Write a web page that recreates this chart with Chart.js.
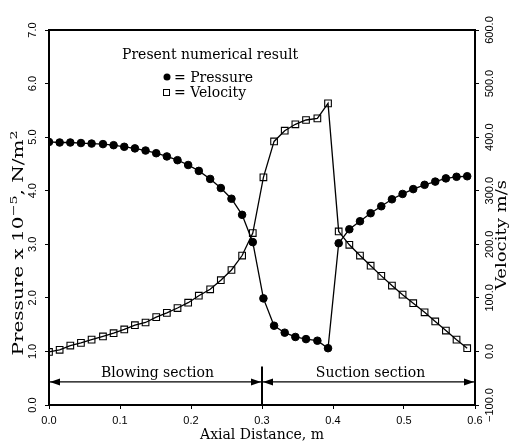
<!DOCTYPE html>
<html>
<head>
<meta charset="utf-8">
<script src="https://cdn.jsdelivr.net/npm/chart.js"></script>
<style>
  html, body { margin: 0; padding: 0; background: #fff; }
</style>
</head>
<body>
<canvas id="chart" width="509" height="445"></canvas>

<script>
// values
const axialDistance = [
  0.000, 0.015, 0.030, 0.045, 0.060, 0.076, 0.091, 0.106, 0.121, 0.136,
  0.151, 0.166, 0.181, 0.196, 0.211, 0.227, 0.242, 0.257, 0.272, 0.287,
  0.302, 0.317, 0.332, 0.347, 0.362, 0.378, 0.393,
  0.408, 0.423, 0.438, 0.453, 0.468, 0.483, 0.498, 0.513, 0.529, 0.544, 0.559, 0.574, 0.589
];
const pressure = [
  4.91, 4.90, 4.90, 4.89, 4.88, 4.87, 4.85, 4.82, 4.79, 4.75,
  4.70, 4.64, 4.57, 4.48, 4.37, 4.22, 4.05, 3.85, 3.55, 3.04,
  1.99, 1.48, 1.35, 1.27, 1.23, 1.20, 1.06,
  3.02, 3.28, 3.43, 3.58, 3.71, 3.84, 3.94, 4.03, 4.11, 4.17, 4.23, 4.26, 4.27
];
const velocity = [
  -1, 3, 11, 16, 22, 28, 34, 41, 49, 54,
  64, 72, 81, 91, 104, 116, 133, 152, 179, 221,
  325, 392, 412, 424, 432, 435, 463,
  224, 199, 179, 160, 141, 123, 106, 90, 73, 56, 39, 22, 6
];
const sectionBounds = [0, 0.3, 0.6];
const sectionNames = ['Blowing section', 'Suction section'];
const legendTitle = 'Present numerical result';
const seriesNames = ['Pressure', 'Velocity'];

const serif = "'DejaVu Serif', serif";
const sans = "'Liberation Sans', Arial, sans-serif";

function vText(ctx, parts, baseX, midY, length) {
  ctx.save();
  let w = 0;
  parts.forEach(p => { ctx.font = p[1] + 'px ' + serif; w += ctx.measureText(p[0]).width; });
  ctx.translate(baseX, midY);
  ctx.rotate(-Math.PI / 2);
  ctx.scale(length / w, 1);
  ctx.textAlign = 'left';
  ctx.textBaseline = 'alphabetic';
  let pos = -w / 2;
  parts.forEach(p => {
    ctx.font = p[1] + 'px ' + serif;
    ctx.fillText(p[0], pos, -p[2]);
    pos += ctx.measureText(p[0]).width;
  });
  ctx.restore();
}

function arrowHead(ctx, x, y, dir) {
  ctx.beginPath();
  ctx.moveTo(x, y);
  ctx.lineTo(x - dir * 10, y - 3.5);
  ctx.lineTo(x - dir * 10, y + 3.5);
  ctx.closePath();
  ctx.fill();
}

const notes = {
  id: 'notes',
  afterDatasetsDraw(chart) {
    const {ctx, scales: {x, y}} = chart;
    ctx.save();
    ctx.fillStyle = '#000';
    ctx.strokeStyle = '#000';

    // section arrows and divider
    const ay = y.getPixelForValue(0.43);
    ctx.lineWidth = 1.3;
    for (let i = 0; i < sectionNames.length; i++) {
      const x0 = x.getPixelForValue(sectionBounds[i]);
      const x1 = x.getPixelForValue(sectionBounds[i + 1]);
      ctx.beginPath(); ctx.moveTo(x0, ay); ctx.lineTo(x1, ay); ctx.stroke();
      arrowHead(ctx, x0 + 1, ay, -1);
      arrowHead(ctx, x1 - 1, ay, 1);
      ctx.font = '14px ' + serif;
      ctx.textAlign = 'center';
      ctx.textBaseline = 'alphabetic';
      ctx.fillText(sectionNames[i], (x0 + x1) / 2 + 2, ay - 5);
    }
    const dx = x.getPixelForValue(sectionBounds[1]);
    ctx.lineWidth = 2;
    ctx.beginPath(); ctx.moveTo(dx, y.getPixelForValue(0)); ctx.lineTo(dx, y.getPixelForValue(0.72)); ctx.stroke();

    // legend block
    ctx.font = '14px ' + serif;
    ctx.textAlign = 'left';
    ctx.fillText(legendTitle, 122, 59);
    ctx.beginPath(); ctx.arc(167, 77, 3.5, 0, Math.PI * 2); ctx.fill();
    ctx.fillText('= ' + seriesNames[0], 174, 82);
    ctx.lineWidth = 1;
    ctx.strokeRect(163.5, 89.5, 6, 6);
    ctx.fillText('= ' + seriesNames[1], 174, 97);

    // axis titles
    vText(ctx, [['Pressure x 10', 14, 0], ['\u22125', 10, 6], [', N/m', 14, 0], ['2', 10, 6]], 23, 243, 225);
    vText(ctx, [['Velocity m/s', 14, 0]], 506, 235, 110);
    ctx.restore();
  }
};

const tickFont = {family: sans, size: 11};
const axisGrid = {display: true, drawOnChartArea: false, drawTicks: true, tickLength: 4, color: '#000', lineWidth: 1};
const axisBorder = {display: true, color: '#000', width: 2};

new Chart(document.getElementById('chart'), {
  type: 'scatter',
  data: {
    datasets: [
      {
        label: seriesNames[0],
        data: axialDistance.map((d, i) => ({x: d, y: pressure[i]})),
        yAxisID: 'y',
        showLine: true,
        borderColor: '#000',
        borderWidth: 1.3,
        pointStyle: 'circle',
        pointRadius: 3.8,
        pointBackgroundColor: '#000',
        pointBorderColor: '#000',
        pointBorderWidth: 1
      },
      {
        label: seriesNames[1],
        data: axialDistance.map((d, i) => ({x: d, y: velocity[i]})),
        yAxisID: 'y1',
        showLine: true,
        borderColor: '#000',
        borderWidth: 1.3,
        pointStyle: 'rect',
        pointRadius: 4.7,
        pointBackgroundColor: 'rgba(0,0,0,0)',
        pointBorderColor: '#000',
        pointBorderWidth: 1.1
      }
    ]
  },
  options: {
    responsive: false,
    animation: false,
    layout: {padding: 0},
    plugins: {legend: {display: false}, tooltip: {enabled: false}},
    scales: {
      x: {
        type: 'linear', position: 'bottom', min: 0, max: 0.6,
        ticks: {stepSize: 0.1, color: '#000', font: tickFont, padding: 5, maxRotation: 0,
                callback: v => v.toFixed(1)},
        grid: axisGrid,
        border: axisBorder,
        title: {display: true, text: 'Axial Distance, m', color: '#000',
                font: {family: serif, size: 14}, padding: {top: 0, bottom: 1}},
        afterFit: s => { s.height = 40; }
      },
      x2: {
        type: 'linear', position: 'top', min: 0, max: 0.6,
        ticks: {display: false},
        grid: {display: false, drawTicks: false},
        border: axisBorder,
        afterFit: s => { s.height = 30; }
      },
      y: {
        type: 'linear', position: 'left', min: 0, max: 7,
        ticks: {stepSize: 1, color: '#000', font: tickFont, padding: 4,
                minRotation: 90, maxRotation: 90, crossAlign: 'center',
                callback: v => v.toFixed(1)},
        grid: axisGrid,
        border: axisBorder,
        afterFit: s => { s.width = 49; }
      },
      y1: {
        type: 'linear', position: 'right', min: -100, max: 600,
        ticks: {stepSize: 100, color: '#000', font: tickFont, padding: -6,
                minRotation: 90, maxRotation: 90, crossAlign: 'center',
                callback: v => (v < 0 ? '\u2212' : '') + Math.abs(v).toFixed(1)},
        grid: axisGrid,
        border: axisBorder,
        afterFit: s => { s.width = 34; }
      }
    }
  },
  plugins: [notes]
});
</script>
</body>
</html>
